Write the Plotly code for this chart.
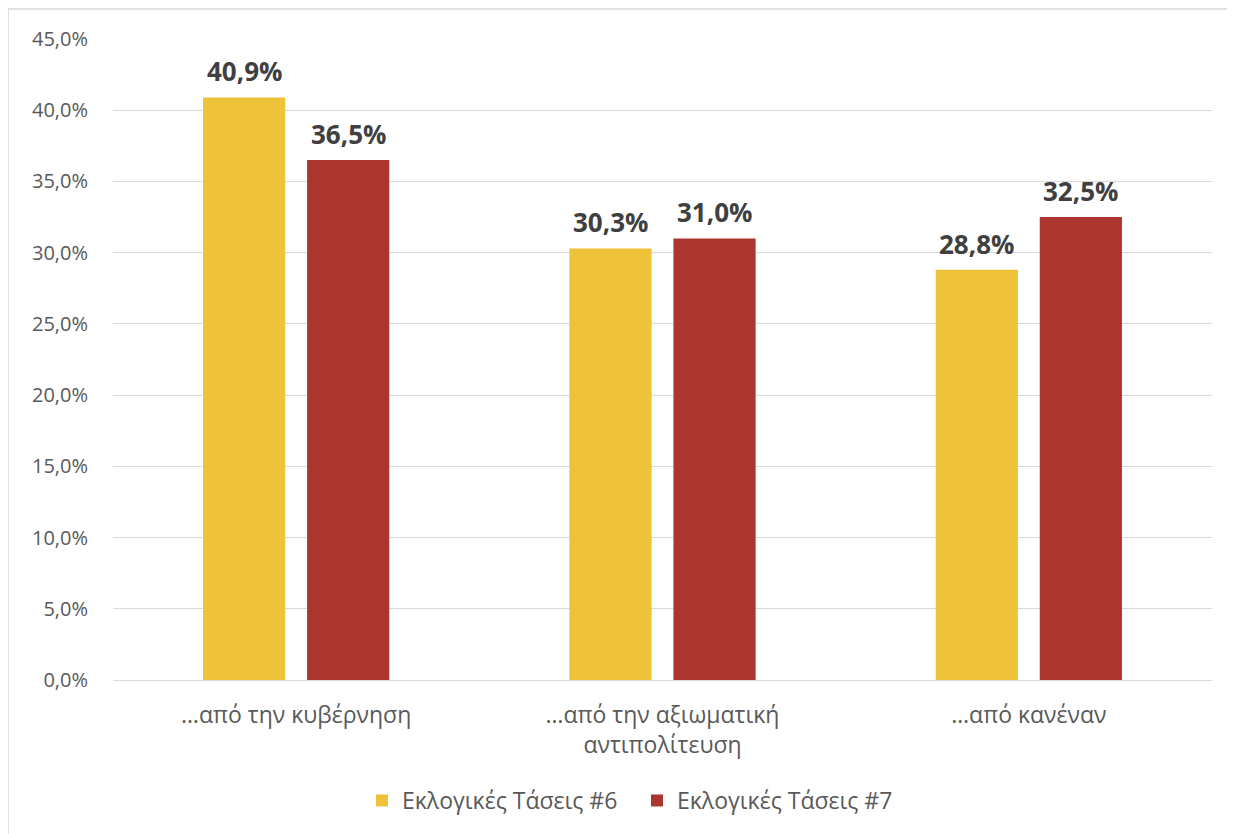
import plotly.graph_objects as go

categories = ["…από την κυβέρνηση", "…από την αξιωματική<br>αντιπολίτευση", "…από κανέναν"]
series6 = [40.9, 30.3, 28.8]
series7 = [36.5, 31.0, 32.5]
name6 = "Εκλογικές Τάσεις #6"
name7 = "Εκλογικές Τάσεις #7"
yticks = [0, 5, 10, 15, 20, 25, 30, 35, 40, 45]
yticktext = [f"{v:.1f}%".replace(".", ",") for v in yticks]

font = "Open Sans, Noto Sans, sans-serif"
colors = ["#EEC239", "#AA362F"]

fig = go.Figure()
annotations = []
for (name, vals, color, shift) in [(name6, series6, colors[0], -52), (name7, series7, colors[1], 52)]:
    fig.add_trace(go.Bar(
        x=categories, y=vals, name=name, marker_color=color,
        marker_line_width=0,
    ))
    for c, v in zip(categories, vals):
        annotations.append(dict(
            x=c, y=v, xref="x", yref="y", text=f"{v:.1f}%".replace(".", ","),
            showarrow=False, xshift=shift, yshift=6, yanchor="bottom",
            font=dict(family=font, size=26, color="#404040", weight="bold"),
        ))

fig.update_layout(
    width=1227, height=826,
    margin=dict(l=105, r=23, t=31, b=154),
    paper_bgcolor="white", plot_bgcolor="white",
    barmode="group", bargap=0.432, bargroupgap=0.21,
    font=dict(family=font, color="#595959", size=20),
    showlegend=True,
    legend=dict(orientation="h", x=0.4768, xanchor="center", y=-0.188, yanchor="middle",
                font=dict(size=23, color="#595959"), itemwidth=30, traceorder="normal",
                entrywidth=230, entrywidthmode="pixels"),
    xaxis=dict(showline=False, ticks="", tickfont=dict(size=23, color="#595959"),
               ticklabelstandoff=19),
    yaxis=dict(range=[0, 45], tickvals=yticks, ticktext=yticktext,
               showgrid=True, gridcolor="#D9D9D9", gridwidth=1.2, zeroline=True,
               zerolinecolor="#D9D9D9", zerolinewidth=1.2,
               tickfont=dict(size=20, color="#595959"), ticklabelstandoff=24),
    annotations=annotations,
    shapes=[dict(type="rect", xref="paper", yref="paper", x0=-0.0955, x1=1.0255,
                 y0=-0.2496, y1=1.0468, line=dict(color="#D9D9D9", width=1.5),
                 fillcolor="rgba(0,0,0,0)", layer="below")],
)

fig.write_html("out.html")
